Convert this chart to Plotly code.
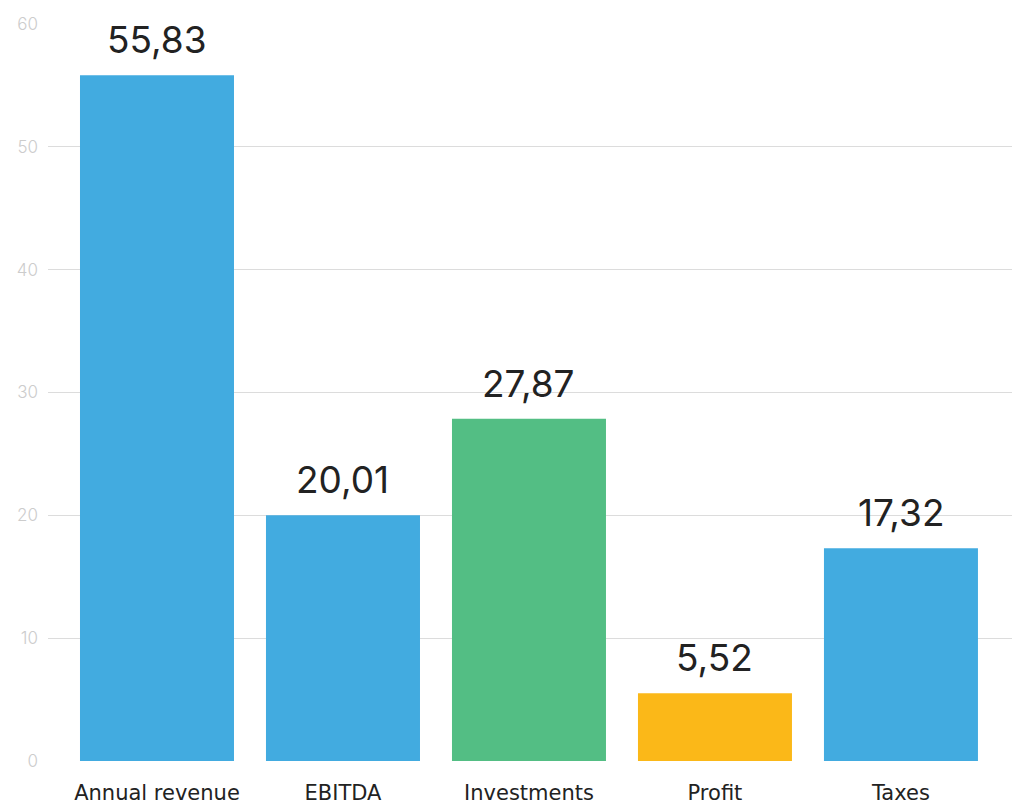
import plotly.graph_objects as go

categories = ["Annual revenue", "EBITDA", "Investments", "Profit", "Taxes"]
values = [55.83, 20.01, 27.87, 5.52, 17.32]
bar_colors = ["#42ABE0", "#42ABE0", "#53BE84", "#FBB818", "#42ABE0"]
value_labels = [f"{v:.2f}".replace(".", ",") for v in values]
y_ticks = [0, 10, 20, 30, 40, 50, 60]

fig = go.Figure(go.Bar(
    x=categories, y=values, marker=dict(color=bar_colors, line=dict(width=0)),
    hoverinfo="skip",
))

for c, v, t in zip(categories, values, value_labels):
    fig.add_annotation(x=c, y=v, text=t, showarrow=False, yanchor="bottom",
                       yshift=11, font=dict(family="Inter", size=37, color="#222222"))

fig.update_layout(
    width=1012, height=810,
    margin=dict(l=48, r=0, t=24, b=49),
    paper_bgcolor="white", plot_bgcolor="white",
    bargap=0.172, showlegend=False,
)
fig.update_xaxes(range=[-0.586, 4.597], showgrid=False, zeroline=False, showline=False,
                 ticks="", tickfont=dict(family="DejaVu Sans", size=21, color="#222222"),
                 ticklabelstandoff=17)
fig.update_yaxes(range=[0, 60], tickvals=y_ticks, showgrid=True, gridcolor="#DCDCDC",
                 gridwidth=1, zeroline=False, showline=False, ticks="",
                 tickfont=dict(family="Inter", size=17, color="#CCCCCC", weight=300),
                 ticklabelstandoff=9)

fig.write_html("out.html", config={"displayModeBar": False},
               post_script="document.body.style.margin='0';document.body.style.overflow='hidden';")
